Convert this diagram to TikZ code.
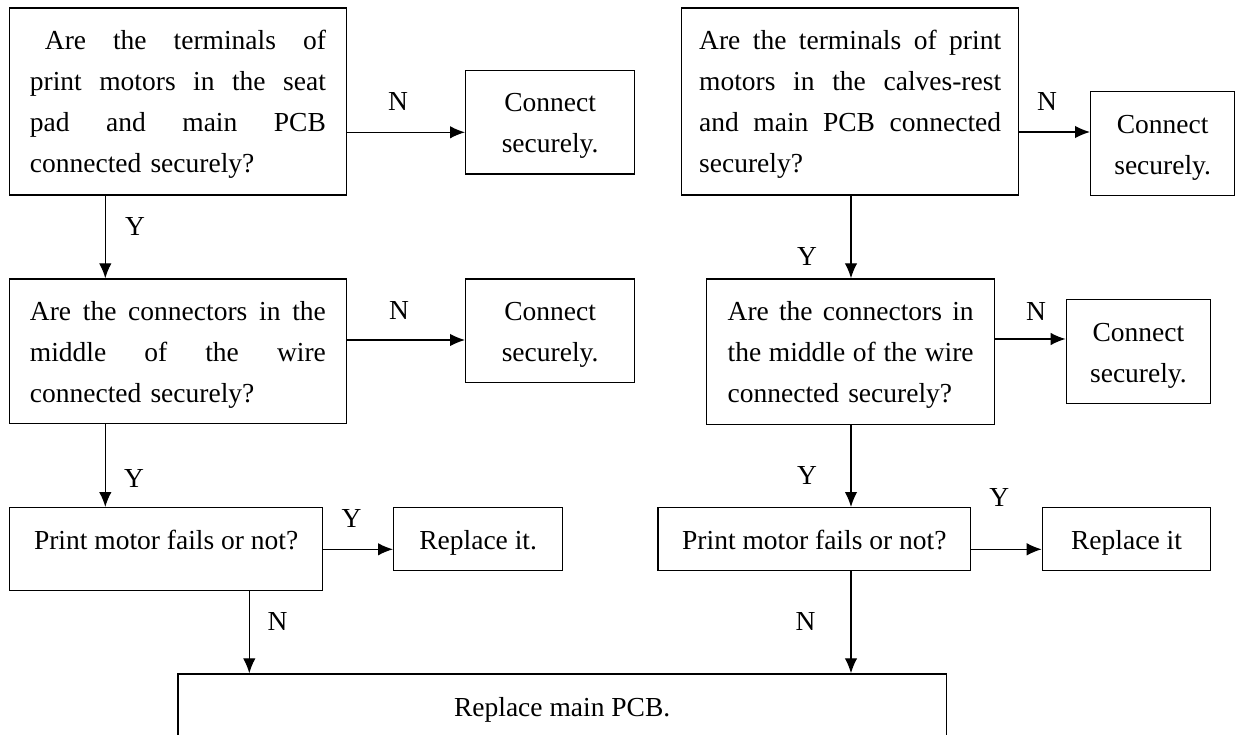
\documentclass[tikz,border=0pt]{standalone}
\usepackage{fontspec}
\setmainfont{Liberation Serif}
\usetikzlibrary{arrows.meta}
\newcommand{\Jline}[2][296pt]{\leavevmode\hbox to #1{#2}}

\begin{document}
\begin{tikzpicture}[>={Latex[length=15pt,width=12.5pt]}, x=1pt, y=-1pt,
    font=\fontsize{27.5}{41}\selectfont,
    box/.style={draw, line width=1.3pt, anchor=north west, inner sep=0pt, align=center, text height=26pt},
    qbox/.style={box, align=left},
    one/.style={text height=42.3pt, text depth=20.3pt},
    flow/.style={->, line width=1.3pt},
    lbl/.style={inner sep=0pt}]

            \useasboundingbox (0,0) rectangle (1235,735);

            % left column
            \draw(9,7.3) node[qbox, minimum width=336.5pt, minimum height=187pt, text width=296pt] (term1)
                {\Jline{\hspace*{15pt}Are\hfill the\hfill terminals\hfill of}\\
                 \Jline{print\hfill motors\hfill in\hfill the\hfill seat}\\
                 \Jline{pad\hfill and\hfill main\hfill PCB}\\ connected securely?};
            \draw(465,69.7) node[box, minimum width=169pt, minimum height=103.6pt, text width=150pt] (conn1) {Connect\\securely.};
            \draw(9,278.3) node[qbox, minimum width=336.5pt, minimum height=144.7pt, text width=296pt] (wire1)
                {\Jline{Are\hfill the\hfill connectors\hfill in\hfill the}\\
                 \Jline{middle\hfill of\hfill the\hfill wire}\\ connected securely?};
            \draw(465,278.3) node[box, minimum width=169pt, minimum height=103.7pt, text width=150pt] (conn2) {Connect\\securely.};
            \draw(9,507) node[box, minimum width=313pt, text height=42.3pt, text depth=40.7pt] (motor1) {Print motor fails or not?};
            \draw(393,507) node[box, one, minimum width=169pt] (repl1) {Replace it.};

            % right column
            \draw(681,7.3) node[qbox, minimum width=337pt, minimum height=187pt, text width=302pt] (term2)
                {\Jline[302pt]{Are\hfill the\hfill terminals\hfill of\hfill print}\\
                 \Jline[302pt]{motors\hfill in\hfill the\hfill calves-rest}\\
                 \Jline[302pt]{and\hfill main\hfill PCB\hfill connected}\\ securely?};
            \draw(1090,91) node[box, minimum width=144pt, minimum height=104pt, text width=130pt] (conn3) {Connect\\securely.};
            \draw(706,278.3) node[qbox, minimum width=288pt, minimum height=145.7pt, text width=246pt] (wire2)
                {\Jline[246pt]{Are\hfill the\hfill connectors\hfill in}\\
                 \Jline[246pt]{the\hfill middle\hfill of\hfill the\hfill wire}\\ connected securely?};
            \draw(1065.6,299) node[box, minimum width=144.4pt, minimum height=104pt, text width=130pt] (conn4) {Connect\\securely.};
            \draw(657.3,507) node[box, one, minimum width=312.7pt] (motor2) {Print motor fails or not?};
            \draw(1041.7,507) node[box, one, minimum width=168.3pt] (repl2) {Replace it};

            \draw(177.3,673.3) node[box, one, minimum width=768.4pt, text depth=19.9pt] (pcb) {Replace main PCB.};

            % connectors
            \draw[flow] (term1.east |- 0,132.3) -- (conn1.west |- 0,132.3);
            \draw[flow] (term1.south -| 105.3,0) -- (wire1.north -| 105.3,0);
            \draw[flow] (wire1.east |- 0,340) -- (conn2.west |- 0,340);
            \draw[flow] (wire1.south -| 105.3,0) -- (motor1.north -| 105.3,0);
            \draw[flow] (motor1.east |- 0,549.3) -- (repl1.west |- 0,549.3);
            \draw[flow] (motor1.south -| 249.3,0) -- (pcb.north -| 249.3,0);

            \draw[flow] (term2.east |- 0,132) -- (conn3.west |- 0,132);
            \draw[flow] (term2.south -| 851,0) -- (wire2.north -| 851,0);
            \draw[flow] (wire2.east |- 0,339) -- (conn4.west |- 0,339);
            \draw[flow] (wire2.south -| 851,0) -- (motor2.north -| 851,0);
            \draw[flow] (motor2.east |- 0,549.3) -- (repl2.west |- 0,549.3);
            \draw[flow] (motor2.south -| 851,0) -- (pcb.north -| 851,0);

            % labels
            \draw(398,101.7) node[lbl] (n1) {N};
            \draw(135,226.7) node[lbl] (y1) {Y};
            \draw(399,310) node[lbl] (n2) {N};
            \draw(134,478.3) node[lbl] (y2) {Y};
            \draw(351.5,518) node[lbl] (y3) {Y};
            \draw(277.5,621.7) node[lbl] (n3) {N};
            \draw(1047,101.7) node[lbl] (n4) {N};
            \draw(807,256) node[lbl] (y4) {Y};
            \draw(1036,311) node[lbl] (n5) {N};
            \draw(807,475) node[lbl] (y5) {Y};
            \draw(999.3,497.3) node[lbl] (y6) {Y};
            \draw(805.6,621.7) node[lbl] (n6) {N};

        \end{tikzpicture}
\end{document}
